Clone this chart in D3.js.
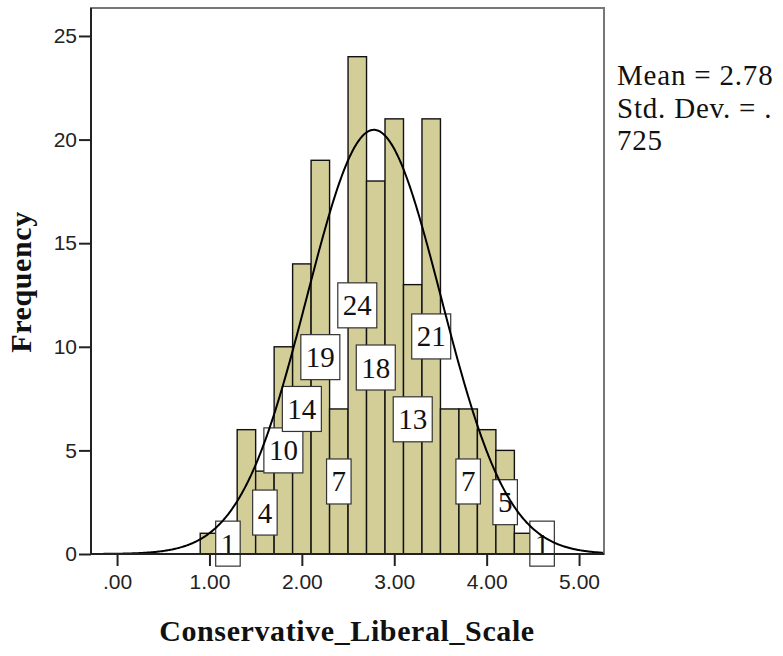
<!DOCTYPE html>
<html>
<head>
<meta charset="utf-8">
<script src="https://cdn.jsdelivr.net/npm/d3@7"></script>
<style>
  html, body { margin: 0; padding: 0; background: #fff; }
  svg { display: block; }
</style>
</head>
<body>
<svg id="chart" width="783" height="656"></svg>
<script>
// ---- data ----
const binStarts = [0.9, 1.1, 1.3, 1.5, 1.7, 1.9, 2.1, 2.3, 2.5, 2.7, 2.9, 3.1, 3.3, 3.5, 3.7, 3.9, 4.1, 4.3, 4.5];
const counts    = [1,   1,   6,   4,   10,  14,  19,  7,   24,  18,  21,  13,  21,  7,   7,   6,   5,   1,   1];
const showLabel = [false,true,false,true,true,true,true,true,true,true,false,true,true,false,true,false,true,false,true];
const binWidth = 0.2;
const meanVal = 2.78;
const sdVal = 0.725;
const nTotal = 186;
const xTickValues = [0, 1, 2, 3, 4, 5];
const xTickLabels = [".00", "1.00", "2.00", "3.00", "4.00", "5.00"];
const yTickValues = [0, 5, 10, 15, 20, 25];
const statLines = ["Mean = 2.78", "Std. Dev. = .", "725"];
const xTitle = "Conservative_Liberal_Scale";
const yTitle = "Frequency";

// ---- layout ----
const pLeft = 91, pRight = 604, pTop = 8, pBottom = 554;
const svg = d3.select("#chart");
const x = d3.scaleLinear().domain([-0.282, 5.27]).range([pLeft, pRight]);
const y = d3.scaleLinear().domain([0, 26.35]).range([pBottom, pTop]);

const barFill = "#D3CE97";

// bars
svg.append("g").selectAll("rect").data(binStarts).join("rect")
  .attr("x", d => x(d))
  .attr("width", d => x(d + binWidth) - x(d))
  .attr("y", (d, i) => y(counts[i]))
  .attr("height", (d, i) => y(0) - y(counts[i]))
  .attr("fill", barFill)
  .attr("stroke", "#111")
  .attr("stroke-width", 1.4);

// labels
const lg = svg.append("g");
binStarts.forEach((b, i) => {
  if (!showLabel[i]) return;
  const cx = x(b + binWidth / 2);
  const cy = y(counts[i] / 2);
  const g = lg.append("g");
  const rect = g.append("rect");
  const t = g.append("text")
    .attr("x", cx).attr("y", cy + 10)
    .attr("text-anchor", "middle")
    .attr("font-family", "'Liberation Serif', 'Times New Roman', serif")
    .attr("font-size", 29)
    .attr("fill", "#111")
    .text(counts[i]);
  const w = t.node().getComputedTextLength() + 10;
  const h = 45;
  rect.attr("x", cx - w / 2).attr("y", cy - h / 2)
    .attr("width", w).attr("height", h)
    .attr("fill", "#fff").attr("stroke", "#333").attr("stroke-width", 1.2);
});

// normal curve
const scaleFactor = nTotal * binWidth;
const curveData = d3.range(-0.282, 5.2701, 0.01).map(v => [v,
  scaleFactor * Math.exp(-0.5 * Math.pow((v - meanVal) / sdVal, 2)) / (sdVal * Math.sqrt(2 * Math.PI))]);
svg.append("path")
  .datum(curveData)
  .attr("d", d3.line().x(d => x(d[0])).y(d => y(d[1])))
  .attr("fill", "none").attr("stroke", "#000").attr("stroke-width", 2);

// frame
svg.append("rect")
  .attr("x", pLeft).attr("y", pTop).attr("width", pRight - pLeft).attr("height", pBottom - pTop)
  .attr("fill", "none").attr("stroke", "#777").attr("stroke-width", 2);

// axes
const xAxis = d3.axisBottom(x).tickValues(xTickValues)
  .tickFormat((d, i) => xTickLabels[i]).tickSize(12).tickPadding(8);
const gx = svg.append("g").attr("transform", `translate(0,${pBottom})`).call(xAxis);
gx.select(".domain").attr("d", `M${pLeft},0H${pRight}`).attr("stroke", "#222").attr("stroke-width", 2);
gx.selectAll(".tick line").attr("stroke", "#222").attr("stroke-width", 2);
gx.selectAll(".tick text")
  .attr("font-family", "'Liberation Sans', Arial, sans-serif")
  .attr("font-size", 21).attr("fill", "#222");

const yAxis = d3.axisLeft(y).tickValues(yTickValues).tickSize(12).tickPadding(2);
const gy = svg.append("g").attr("transform", `translate(${pLeft},0)`).call(yAxis);
gy.select(".domain").attr("d", `M0,${pBottom}V${pTop}`).attr("stroke", "#222").attr("stroke-width", 2);
gy.selectAll(".tick line").attr("stroke", "#222").attr("stroke-width", 2);
gy.selectAll(".tick text")
  .attr("font-family", "'Liberation Sans', Arial, sans-serif")
  .attr("font-size", 21).attr("fill", "#222");

// titles
svg.append("text")
  .attr("x", 347).attr("y", 641)
  .attr("text-anchor", "middle")
  .attr("font-family", "'Liberation Serif', 'Times New Roman', serif")
  .attr("font-weight", "bold").attr("font-size", 30).attr("letter-spacing", 0.6).attr("fill", "#111")
  .text(xTitle);

svg.append("text")
  .attr("transform", "translate(31,282) rotate(-90)")
  .attr("text-anchor", "middle")
  .attr("font-family", "'Liberation Serif', 'Times New Roman', serif")
  .attr("font-weight", "bold").attr("font-size", 30).attr("letter-spacing", 0.6).attr("fill", "#111")
  .text(yTitle);

// stats
svg.append("g").selectAll("text").data(statLines).join("text")
  .attr("x", 617).attr("y", (d, i) => 85 + i * 32.5)
  .attr("font-family", "'Liberation Serif', 'Times New Roman', serif")
  .attr("font-size", 29).attr("letter-spacing", 0.8).attr("fill", "#111")
  .text(d => d);
</script>
</body>
</html>
